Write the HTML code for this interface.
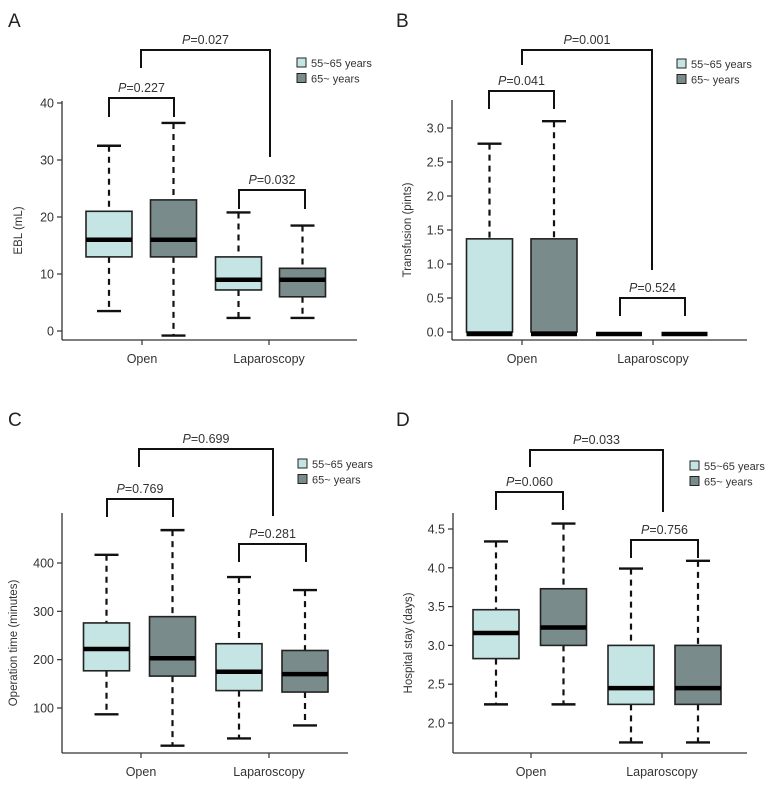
<!DOCTYPE html>
<html><head><meta charset="utf-8"><style>
html,body{margin:0;padding:0;background:#fff;}
svg{display:block;font-family:"Liberation Sans",sans-serif;}
</style></head><body>
<svg id="fig" width="768" height="789" viewBox="0 0 768 789"></svg>
<script>
// ---- data arrays (top level) ----
const categories = ["Open", "Laparoscopy"];
const seriesNames = ["55~65 years", "65~ years"];
// each box: [min, q1, median, q3, max]; order: Open-young, Open-old, Lap-young, Lap-old
const ebl = [[3.5,13,16,21,32.5],[-0.8,13,16,23,36.5],[2.3,7.2,9,13,20.8],[2.3,6,9,11,18.5]];
const transfusion = [[0,0,-0.03,1.37,2.77],[0,0,-0.03,1.37,3.1],[-0.03,-0.03,-0.03,-0.03,-0.03],[-0.03,-0.03,-0.03,-0.03,-0.03]];
const operation = [[87,177,222,276,417],[22,166,203,289,468],[37,136,175,233,371],[64,133,170,219,344]];
const hospital = [[2.24,2.83,3.16,3.46,4.34],[2.24,3.0,3.23,3.73,4.57],[1.75,2.24,2.45,3.0,3.99],[1.75,2.24,2.45,3.0,4.09]];
const eblTicks = [0,10,20,30,40];
const transTicks = [0.0,0.5,1.0,1.5,2.0,2.5,3.0];
const opTicks = [100,200,300,400];
const hospTicks = [2.0,2.5,3.0,3.5,4.0,4.5];
const eblP = ["0.227","0.032","0.027"];
const transP = ["0.041","0.524","0.001"];
const opP = ["0.769","0.281","0.699"];
const hospP = ["0.060","0.756","0.033"];

const NS="http://www.w3.org/2000/svg";
const svg=document.getElementById('fig');
function el(tag,attrs,parent,text){const e=document.createElementNS(NS,tag);for(const k in attrs)e.setAttribute(k,attrs[k]);if(text!==undefined)e.textContent=text;(parent||svg).appendChild(e);return e;}
const LIGHT="#c4e5e4", DARK="#798b8b";

function panel(cfg){
  const g=el('g',{});
  
  
  const y=v=>cfg.y0px+(v-cfg.v0)*(cfg.y1px-cfg.y0px)/(cfg.v1-cfg.v0);
  const lt=el('text',{x:cfg.lx,y:cfg.ly,'font-size':19,fill:'#222'},g,cfg.letter);
  
  // axes
  const ya=el('line',{x1:cfg.ax,y1:cfg.atop,x2:cfg.ax,y2:cfg.abot,stroke:'#333','stroke-width':1.3},g);
  
  const xa=el('line',{x1:cfg.ax,y1:cfg.abot,x2:cfg.aright,y2:cfg.abot,stroke:'#333','stroke-width':1.3},g);
  
  cfg.ticks.forEach(t=>{
    el('line',{x1:cfg.ax-5,y1:y(t),x2:cfg.ax,y2:y(t),stroke:'#333','stroke-width':1.2},g);
    const tl=el('text',{x:cfg.ax-8,y:y(t)+4.5,'font-size':12.5,'text-anchor':'end',fill:'#333'},g,t.toFixed(cfg.dec));
    
  });
  categories.forEach((c,i)=>{
    el('line',{x1:cfg.catx[i],y1:cfg.abot,x2:cfg.catx[i],y2:cfg.abot+5,stroke:'#333','stroke-width':1.2},g);
    const cl=el('text',{x:cfg.catx[i],y:cfg.abot+23,'font-size':12.5,'text-anchor':'middle',fill:'#333'},g,c);
    
  });
  const yt=el('text',{x:0,y:0,'font-size':11.5,'text-anchor':'middle',fill:'#333',transform:`translate(${cfg.ytx},${(cfg.atop+cfg.abot)/2+10}) rotate(-90)`},g,cfg.ytitle);
  
  // boxes
  cfg.data.forEach((b,i)=>{
    const cx=cfg.boxx[i], w=46, fill=i%2?DARK:LIGHT;
    const bg=el('g',{},g);
    
    
    el('line',{x1:cx,y1:y(b[4]),x2:cx,y2:y(b[3]),stroke:'#111','stroke-width':2.2,'stroke-dasharray':'6,5'},bg);
    el('line',{x1:cx,y1:y(b[1]),x2:cx,y2:y(b[0]),stroke:'#111','stroke-width':2.2,'stroke-dasharray':'6,5'},bg);
    el('line',{x1:cx-12,y1:y(b[4]),x2:cx+12,y2:y(b[4]),stroke:'#111','stroke-width':2.4},bg);
    el('line',{x1:cx-12,y1:y(b[0]),x2:cx+12,y2:y(b[0]),stroke:'#111','stroke-width':2.4},bg);
    const h=y(b[1])-y(b[3]);
    if(h>1) el('rect',{x:cx-w/2,y:y(b[3]),width:w,height:h,fill:fill,stroke:'#222','stroke-width':1.6},bg);
    el('line',{x1:cx-w/2,y1:y(b[2]),x2:cx+w/2,y2:y(b[2]),stroke:'#000','stroke-width':4.5},bg);
  });
  // brackets
  cfg.br.forEach((br,i)=>{
    const bg=el('g',{},g);
    
    el('path',{d:`M${br[0]},${br[3]} V${br[2]} H${br[1]} V${br[4]}`,fill:'none',stroke:'#111','stroke-width':2},bg);
    const t=el('text',{x:(br[0]+br[1])/2,y:br[2]-6,'font-size':12.5,'text-anchor':'middle',fill:'#333'},bg);
    el('tspan',{'font-style':'italic'},t,'P');
    el('tspan',{},t,'='+cfg.p[i]);
  });
  // legend
  seriesNames.forEach((s,i)=>{
    const lg=el('g',{},g);
    
    el('rect',{x:cfg.legx,y:cfg.legy+i*15.5-8,width:9,height:9,fill:i?DARK:LIGHT,stroke:'#222','stroke-width':1},lg);
    el('text',{x:cfg.legx+14,y:cfg.legy+i*15.5+1,'font-size':11,fill:'#333'},lg,s);
  });
}

panel({letter:'A',lx:8,ly:27,ax:62,atop:101,abot:340,aright:357,v0:0,v1:40,y0px:331,y1px:103,ticks:eblTicks,dec:0,
  catx:[142,269],boxx:[109,173.5,238.5,302.5],data:ebl,ytitle:'EBL (mL)',ytx:22,p:eblP,
  br:[[109,174,98,117,117],[239,305,190,209,209],[141,270,50,68,157]],legx:297,legy:66});
panel({letter:'B',lx:396,ly:27,ax:452,atop:100,abot:340,aright:747,v0:0,v1:3,y0px:332,y1px:128,ticks:transTicks,dec:1,
  catx:[522,653],boxx:[489.5,554,619,684.5],data:transfusion,ytitle:'Transfusion (pints)',ytx:411,p:transP,
  br:[[489,554,91,109,109],[620,685,298,316,316],[522,652,50,65,270]],legx:677,legy:67});
panel({letter:'C',lx:8,ly:426,ax:62,atop:513,abot:753,aright:348,v0:100,v1:400,y0px:708,y1px:563,ticks:opTicks,dec:0,
  catx:[141,269],boxx:[106.5,172.5,239,305],data:operation,ytitle:'Operation time (minutes)',ytx:17,p:opP,
  br:[[107,173,499,517,517],[239,306,544,562,562],[139,273,449,467,516]],legx:298,legy:467});
panel({letter:'D',lx:396,ly:426,ax:453,atop:513,abot:753,aright:747,v0:2,v1:4.5,y0px:723,y1px:529,ticks:hospTicks,dec:1,
  catx:[531,662],boxx:[496,563.5,631,698],data:hospital,ytitle:'Hospital stay (days)',ytx:412,p:hospP,
  br:[[496,563,492,510,510],[631,698,540,558,558],[530,663,450,467,512]],legx:690,legy:469});
</script>
</body></html>
